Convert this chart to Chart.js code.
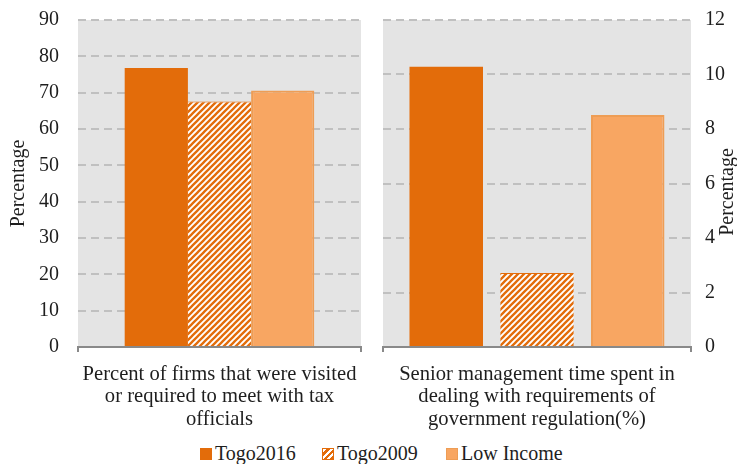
<!DOCTYPE html>
<html><head><meta charset="utf-8">
<script src="https://cdn.jsdelivr.net/npm/chart.js@4"></script>
<style>
body{margin:0;background:#fff;width:737px;height:464px;overflow:hidden;position:relative;font-family:"Liberation Serif",serif;}
#l{position:absolute;left:0;top:0;}
#r{position:absolute;left:372px;top:0;}
.li{position:absolute;top:442px;height:22px;line-height:22px;font-size:20px;color:#1e1e1e;white-space:nowrap;}
.sw{position:absolute;left:0;top:6px;width:12px;height:12px;box-sizing:border-box;}
.tx{position:absolute;left:15px;top:0;}
</style></head><body>
<canvas id="l" width="372" height="440"></canvas>
<canvas id="r" width="365" height="440"></canvas>
<div id="legend"></div>
<script>
// ---- data ----
const seriesNames = ['Togo2016', 'Togo2009', 'Low Income'];
const leftCategory = [['Percent of firms that were visited', 'or required to meet with tax', 'officials']];
const rightCategory = [['Senior management time spent in', 'dealing with requirements of', 'government regulation(%)']];
const togo2016 = [76.8, 10.28];
const togo2009 = [67.6, 2.72];
const lowIncome = [70.6, 8.51];
const leftTicks = {min: 0, max: 90, step: 10};
const rightTicks = {min: 0, max: 12, step: 2};
const yTitle = 'Percentage';

// ---- style ----
const FONT = "'Liberation Serif', 'Times New Roman', serif";
const C16 = '#E36C0A', CLOW = '#F8A662', CLOWB = '#EE9D55';
const GRID = '#C0C0C0', AXIS = '#898989', BG = '#E4E4E4', TXT = '#1e1e1e';
Chart.defaults.font.family = FONT;
Chart.defaults.font.size = 20;
Chart.defaults.color = TXT;

function hatch() {
  const s = 6, c = document.createElement('canvas');
  c.width = c.height = s;
  const x = c.getContext('2d');
  x.fillStyle = '#fff'; x.fillRect(0, 0, s, s);
  x.strokeStyle = C16; x.lineWidth = 2.3;
  x.beginPath();
  x.moveTo(0, s); x.lineTo(s, 0);
  x.moveTo(-s / 2, s / 2); x.lineTo(s / 2, -s / 2);
  x.moveTo(s / 2, s * 1.5); x.lineTo(s * 1.5, s / 2);
  x.stroke();
  return x.createPattern(c, 'repeat');
}
const pattern = hatch();

const bgPlugin = {
  id: 'bg',
  beforeDraw(c) {
    const {ctx, chartArea: a} = c;
    ctx.save(); ctx.fillStyle = BG;
    ctx.fillRect(a.left, a.top, a.right - a.left, a.bottom - a.top);
    ctx.restore();
  }
};

function zeroPad(s) { s.paddingTop = 0; s.paddingBottom = 0; s.paddingLeft = 0; s.paddingRight = 0; }

function make(id, labels, idx, tk, side) {
  const isLeft = side === 'left';
  const plugins = [bgPlugin];
  if (!isLeft) {
    plugins.push({
      id: 'rtitle',
      afterDraw(c) {
        const ctx = c.ctx;
        ctx.save();
        ctx.translate(356, 192);
        ctx.rotate(-Math.PI / 2);
        ctx.textAlign = 'center'; ctx.textBaseline = 'middle';
        ctx.fillStyle = TXT; ctx.font = '20px ' + FONT;
        ctx.fillText(yTitle, 0, 0);
        ctx.restore();
      }
    });
  }
  return new Chart(document.getElementById(id), {
    type: 'bar',
    data: {
      labels: labels,
      datasets: [
        {label: seriesNames[0], data: [togo2016[idx]], backgroundColor: C16, borderWidth: 0},
        {label: seriesNames[1], data: [togo2009[idx]], backgroundColor: pattern, borderColor: C16,
          borderWidth: {top: 1, left: 0, right: 0, bottom: 0}},
        {label: seriesNames[2], data: [lowIncome[idx]], backgroundColor: CLOW, borderColor: CLOWB, borderWidth: 2}
      ]
    },
    options: {
      responsive: false,
      animation: false,
      categoryPercentage: isLeft ? 0.67 : 0.884,
      barPercentage: isLeft ? 1.0 : 0.81,
      layout: {padding: isLeft ? {top: 20, left: 0, right: 11, bottom: 0} : {top: 20, left: 11, right: 0, bottom: 0}},
      plugins: {legend: {display: false}, tooltip: {enabled: false}},
      scales: {
        x: {
          grid: {offset: true, drawOnChartArea: false, drawTicks: true, tickLength: 5, color: AXIS, lineWidth: 2},
          border: {display: true, color: AXIS, width: 2},
          ticks: {font: {family: FONT, size: 20.6, lineHeight: 1.07}, color: TXT, padding: 12, maxRotation: 0, autoSkip: false},
          afterFit(s) { s.height = 93; zeroPad(s); }
        },
        y: {
          position: side,
          min: tk.min, max: tk.max,
          ticks: {stepSize: tk.step, font: {family: FONT, size: 20}, color: TXT, padding: isLeft ? 19 : 14},
          grid: {
            drawTicks: false, lineWidth: 2,
            color: (ctx) => (ctx.tick && ctx.tick.value === 0) ? 'rgba(0,0,0,0)' : GRID
          },
          border: {display: false, dash: [8, 5]},
          title: {display: isLeft, text: yTitle, color: TXT, font: {family: FONT, size: 20}, padding: {top: 7, bottom: 0}},
          afterFit(s) { s.width = isLeft ? 78 : 46; zeroPad(s); }
        }
      }
    },
    plugins: plugins
  });
}

const charts = [
  make('l', leftCategory, 0, leftTicks, 'left'),
  make('r', rightCategory, 1, rightTicks, 'right')
];
if (document.fonts && document.fonts.ready) {
  document.fonts.ready.then(() => charts.forEach(c => c.update('none')));
}

// legend
const legendX = [200, 322, 446];
const swatchStyles = [
  'background:' + C16,
  'background:repeating-linear-gradient(-45deg,' + C16 + ' 0 2.5px,#fff 2.5px 4.5px);border:1.5px solid ' + C16,
  'background:' + CLOW + ';border:1px solid ' + CLOWB
];
const lg = document.getElementById('legend');
seriesNames.forEach((n, i) => {
  const d = document.createElement('div');
  d.className = 'li'; d.style.left = legendX[i] + 'px';
  d.innerHTML = '<span class="sw" style="' + swatchStyles[i] + '"></span><span class="tx"></span>';
  d.querySelector('.tx').textContent = n;
  lg.appendChild(d);
});
</script>
</body></html>
